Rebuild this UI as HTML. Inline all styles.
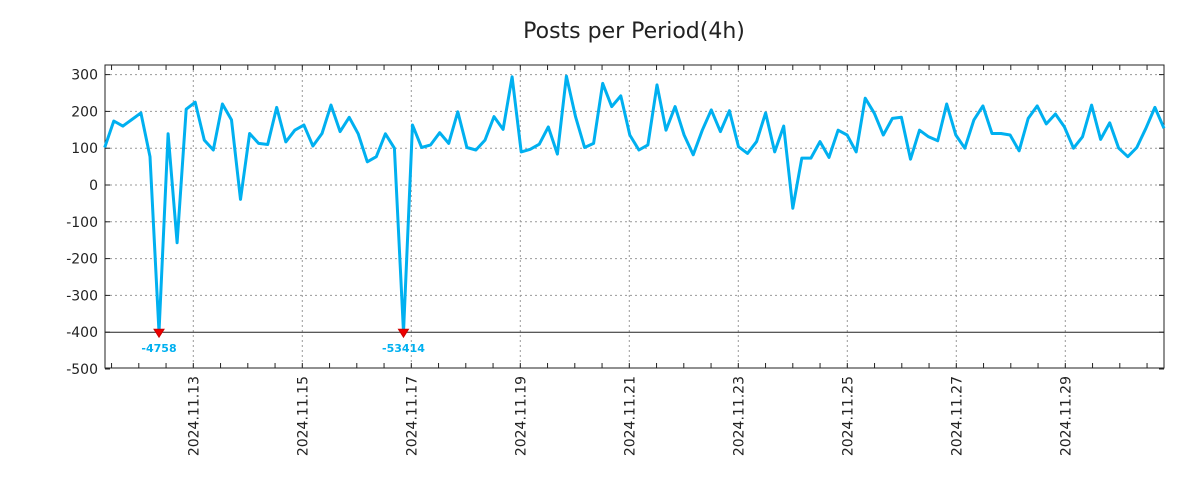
<!DOCTYPE html>
<html><head><meta charset="utf-8"><style>
body{margin:0;background:#fff;}
svg{display:block;font-family:"DejaVu Sans","Liberation Sans",sans-serif;}
</style></head><body>
<svg id="chart" width="1200" height="500" viewBox="0 0 1200 500">
<rect width="1200" height="500" fill="#fff"/>
<text x="634" y="38" text-anchor="middle" font-size="22" fill="#222">Posts per Period(4h)</text>
<g id="grid"></g>
<g id="axes"></g>
<g id="series"></g>
</svg>
<script>
const values = [102,174,160,178,196,77,-4758,139,-157,206,225,122,95,220,177,-39,140,113,110,211,117,149,163,106,140,217,145,184,139,63,77,
139,100,-53414,163,102,109,142,113,199,102,95,122,186,151,294,90,97,111,158,84,296,186,102,113,276,213,242,136,95,109,
272,149,213,136,82,149,204,145,202,104,86,118,196,90,160,-63,73,73,118,75,149,136,90,236,195,136,181,184,
70,149,131,120,220,136,100,177,215,140,140,136,93,181,215,166,193,158,100,131,217,124,169,100,77,102,154,211,154];
const yTicks = [300,200,100,0,-100,-200,-300,-400,-500];
const xLabels = ["2024.11.13","2024.11.15","2024.11.17","2024.11.19","2024.11.21","2024.11.23","2024.11.25","2024.11.27","2024.11.29"];
const xLabelDays = [0,2,4,6,8,10,12,14,16];
const clipMin = -400;

const NS="http://www.w3.org/2000/svg";
const L=105,R=1164,T=65,B=368;
const yScale=v=>185-v*0.368;
const xIdx=i=>104.7+i*(1164-104.7)/(values.length-1);
const xDay=d=>193.3+d*54.5;
function mk(tag,attrs,parent){const e=document.createElementNS(NS,tag);for(const k in attrs)e.setAttribute(k,attrs[k]);parent.appendChild(e);return e;}
const grid=document.getElementById('grid'),axes=document.getElementById('axes'),series=document.getElementById('series');

yTicks.forEach(v=>{
  const y=yScale(v);
  if(v!==-500&&v!==clipMin){const g=mk('line',{x1:L,x2:R,y1:y,y2:y,stroke:'#999','stroke-dasharray':'2,3'},grid);
  
  }
  mk('line',{x1:L,x2:L+5,y1:y,y2:y,stroke:'#222'},axes);
  mk('line',{x1:R-5,x2:R,y1:y,y2:y,stroke:'#222'},axes);
  const lb=mk('text',{x:98,y:y+5,'text-anchor':'end','font-size':14,fill:'#222'},axes);
  lb.textContent=v;
  
  
});
xLabels.forEach((s,k)=>{
  const x=xDay(xLabelDays[k]);
  const g=mk('line',{x1:x,x2:x,y1:T,y2:B,stroke:'#999','stroke-dasharray':'2,3'},grid);
  
  
  const lb=mk('text',{transform:`translate(${x+5},376) rotate(-90)`,'text-anchor':'end','font-size':14,fill:'#222'},axes);
  lb.textContent=s;
  
  
});
for(let d=-1.5;d<=18;d+=0.5){const x=xDay(d);if(x<=L||x>=R)continue;
  mk('line',{x1:x,x2:x,y1:T,y2:T+5,stroke:'#222'},axes);
  mk('line',{x1:x,x2:x,y1:B-5,y2:B,stroke:'#222'},axes);}
const fr=mk('rect',{x:L,y:T,width:R-L,height:B-T,fill:'none',stroke:'#222'},axes);


const cl=mk('line',{x1:L,x2:R,y1:yScale(clipMin),y2:yScale(clipMin),stroke:'#222'},axes);



const pts=values.map((v,i)=>xIdx(i).toFixed(1)+','+yScale(Math.max(v,clipMin)).toFixed(1)).join(' ');
const pl=mk('polyline',{points:pts,fill:'none',stroke:'#00b0f0','stroke-width':3,'stroke-linejoin':'round'},series);


values.forEach((v,i)=>{
  if(v>=clipMin)return;
  const x=xIdx(i),y=yScale(clipMin);
  const m=mk('polygon',{points:`${x-5},${y-3} ${x+5},${y-3} ${x},${y+5}`,fill:'#e00',stroke:'#c00'},series);
  
  
  const t=mk('text',{x:x,y:y+20,'text-anchor':'middle','font-size':11,'font-weight':'bold',fill:'#00b0f0'},series);
  t.textContent=v;
  
  
});
</script>
</body></html>
